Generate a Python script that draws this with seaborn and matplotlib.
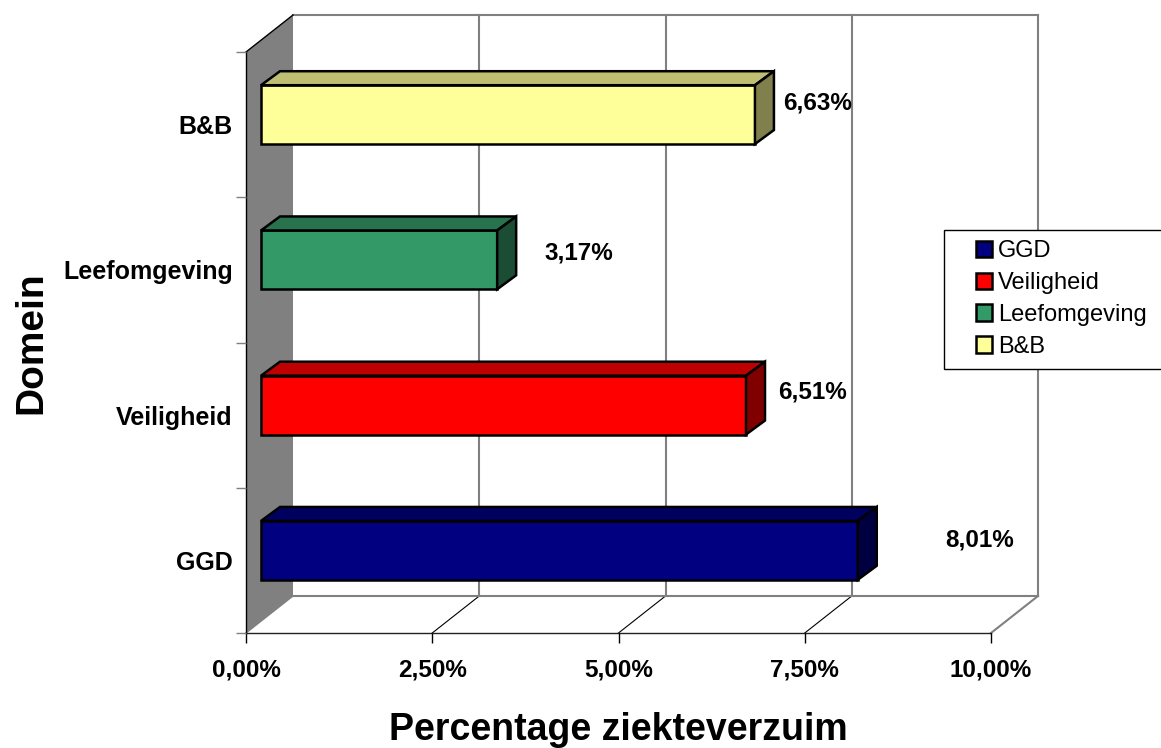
"""
plot.py
=======
Pseudo-3D bar chart of sick leave per domain, drawn from a seaborn barplot.
"""

import matplotlib
matplotlib.use("Agg")
import matplotlib.pyplot as plt
import matplotlib.colors as mcolors
from matplotlib.patches import Polygon, Rectangle
from matplotlib.transforms import Affine2D, IdentityTransform
import pandas as pd
import seaborn as sns

domains = ["B&B", "Leefomgeving", "Veiligheid", "GGD"]
values = [6.63, 3.17, 6.51, 8.01]
value_labels = ["6,63%", "3,17%", "6,51%", "8,01%"]
legend_order = ["GGD", "Veiligheid", "Leefomgeving", "B&B"]
colours = {"GGD": "#000080", "Veiligheid": "#FF0000",
           "Leefomgeving": "#339966", "B&B": "#FFFF99"}
x_ticks = [0, 2.5, 5, 7.5, 10]
x_tick_labels = ["0,00%", "2,50%", "5,00%", "7,50%", "10,00%"]

W, H = 1161, 748
BACK = (47, 37)       # shift from front plane to back wall, pixels
BAR_SHIFT = (15, 10)  # shift of the bar front from the front plane
DEPTH = (19, 14)      # bar depth
# value label offset from the bar end, pixels
LABEL_GAP = {"B&B": (63, 12), "Leefomgeving": (82, 7), "Veiligheid": (67, 13), "GGD": (122, 10)}
GREY = "#808080"

sns.set_theme(style="white")
plt.rcParams["font.family"] = ["Liberation Sans", "DejaVu Sans"]

df = pd.DataFrame({"domain": domains, "value": values})

fig = plt.figure(figsize=(W / 100, H / 100), dpi=100)
ax = fig.add_axes([246 / W, (H - 633) / H, 745 / W, 581 / H])
sns.barplot(data=df, x="value", y="domain", hue="domain", order=domains,
            hue_order=legend_order, palette=colours, dodge=False, width=0.405,
            saturation=1, orient="h", edgecolor="black", linewidth=1.8, legend=True, ax=ax)
ax.set_xlim(0, 10)
handles, labels = ax.get_legend_handles_labels()
ax.get_legend().remove()
sns.despine(ax=ax, left=True, bottom=True)


def px(x, y, dx=0, dy=0):
    """Data coordinates to display pixels, with a pixel shift."""
    a, b = ax.transData.transform((x, y))
    return (a + dx, b + dy)


def line(points, color, lw, zorder=0.5):
    xs, ys = zip(*points)
    ax.plot(xs, ys, color=color, lw=lw, zorder=zorder, clip_on=False,
            transform=IdentityTransform(), solid_capstyle="projecting")


y_bottom, y_top = ax.get_ylim()
bx, by = BACK

# walls and floor
ax.add_patch(Polygon([px(0, y_bottom), px(0, y_top), px(0, y_top, bx, by), px(0, y_bottom, bx, by)],
                     closed=True, facecolor=GREY, edgecolor="none", zorder=0.4,
                     transform=IdentityTransform(), clip_on=False))
for t in x_ticks[1:]:
    line([px(t, y_bottom, bx, by), px(t, y_top, bx, by)], GREY, 1.5)
    line([px(t, y_bottom), px(t, y_bottom, bx, by)], GREY if t == 10 else "black", 1.5 if t == 10 else 0.8)
line([px(0, y_top, bx, by), px(10, y_top, bx, by)], GREY, 1.5)
line([px(0, y_bottom, bx, by), px(10, y_bottom, bx, by)], GREY, 1.5)
line([px(0, y_bottom), px(0, y_bottom, bx, by)], GREY, 1.0)
line([px(0, y_top), px(0, y_top, bx, by)], "black", 1.0)
line([px(0, y_bottom), px(0, y_top)], "black", 1.0)
line([px(0, y_bottom), px(10, y_bottom)], "#222222", 1.0)

# bars: shift the seaborn fronts and add top and side faces
shift = Affine2D().translate(*BAR_SHIFT)
for container, name in zip(ax.containers, legend_order):
    base = mcolors.to_rgb(colours[name])
    top_face = tuple(c * 0.75 for c in base)
    side_face = tuple(c * 0.5 for c in base)
    for bar in container:
        if bar.get_width() == 0:
            continue
        bar.set_transform(ax.transData + shift)
        bar.set_zorder(3)
        bar.set_clip_on(False)
        x1 = bar.get_width()
        y0, y1 = bar.get_y(), bar.get_y() + bar.get_height()
        sx, sy = BAR_SHIFT
        dx, dy = DEPTH
        a = px(0, y0, sx, sy)
        b = px(x1, y0, sx, sy)
        c = px(x1, y1, sx, sy)
        a2 = (a[0] + dx, a[1] + dy)
        b2 = (b[0] + dx, b[1] + dy)
        c2 = (c[0] + dx, c[1] + dy)
        ax.add_patch(Polygon([a, b, b2, a2], closed=True, facecolor=top_face, edgecolor="black",
                             lw=1.8, zorder=3, transform=IdentityTransform(), clip_on=False))
        ax.add_patch(Polygon([b, c, c2, b2], closed=True, facecolor=side_face, edgecolor="black",
                             lw=1.8, zorder=3, transform=IdentityTransform(), clip_on=False))
        centre = bar.get_y() + bar.get_height() / 2
        lx, ly = px(x1, centre, sx, sy)
        gx, gy = LABEL_GAP[name]
        ax.text(lx + gx, ly + gy, value_labels[domains.index(name)], ha="center",
                va="center", fontsize=17.5, fontweight="bold", color="black", zorder=5,
                transform=IdentityTransform(), clip_on=False)

# axes
ax.set_xticks(x_ticks)
ax.set_xticklabels(x_tick_labels, fontsize=17.5, fontweight="bold", color="black")
ax.set_yticks([i - 0.5 for i in range(len(domains) + 1)], minor=True)
ax.tick_params(axis="x", which="major", bottom=True, length=7, width=1, color="black", pad=11)
ax.tick_params(axis="y", which="minor", left=True, length=7, width=1, color=GREY)
ax.tick_params(axis="y", which="major", left=False, length=0, pad=9.4)
for lab in ax.get_yticklabels():
    lab.set_fontsize(18)
    lab.set_fontweight("bold")
    lab.set_color("black")
ax.set_xlabel("Percentage ziekteverzuim", fontsize=27, fontweight="bold", color="black", labelpad=22)
ax.set_ylabel("Domein", fontsize=28, fontweight="bold", color="black")
ax.yaxis.set_label_coords((49 - 246) / 745, 0.5)
ax.patch.set_visible(False)

# legend box runs off the right side of the picture
fig.add_artist(Rectangle((944 / W, (H - 369) / H), 300 / W, 139 / H, transform=fig.transFigure,
                         facecolor="white", edgecolor="black", lw=1.0, zorder=5))
leg = fig.legend(handles, labels, loc="upper left", bbox_to_anchor=(976 / W, (H - 240) / H),
                 bbox_transform=fig.transFigure, frameon=False, fontsize=17, borderpad=0,
                 borderaxespad=0, handlelength=0.68, handleheight=0.68, handletextpad=0.25,
                 labelspacing=0.42, labelcolor="black")
leg.set_zorder(6)

fig.savefig("out.png", dpi=100)
plt.close(fig)
